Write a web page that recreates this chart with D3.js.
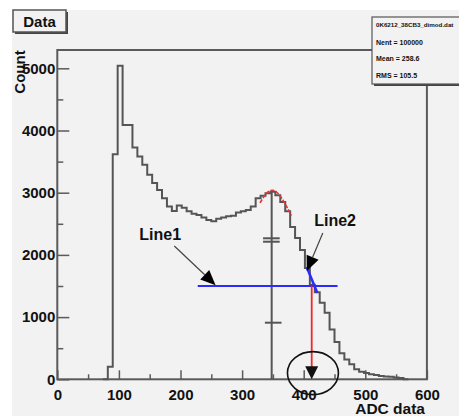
<!DOCTYPE html>
<html><head><meta charset="utf-8">
<script src="https://cdn.jsdelivr.net/npm/d3@7"></script>
<style>
body{margin:0;background:#fff}
svg{display:block}
text{font-family:"Liberation Sans",Arial,sans-serif;font-weight:bold;fill:#111}
</style>
</head><body><svg id="c" width="459" height="416"></svg>
<script>
// ---------- data ----------
const binStart = 74, binWidth = 8;
const counts = [0, 200, 3620, 5040, 4090, 4090, 3725, 3580, 3450, 3290, 3155, 3045, 2910, 2780, 2705, 2795,
  2760, 2700, 2660, 2640, 2600, 2560, 2540, 2580, 2600, 2620, 2630, 2680, 2700, 2720, 2780, 2910, 2950, 2990,
  3015, 2960, 2850, 2700, 2450, 2270, 2080, 1790, 1520, 1400, 1230, 1070, 800, 600, 420, 320, 240, 160, 120,
  100, 80, 70, 55, 45, 40, 30, 20, 0];
const xTicks = [0, 100, 200, 300, 400, 500, 600];
const xMinor = [50, 150, 250, 350, 450, 550];
const yTicks = [0, 1000, 2000, 3000, 4000, 5000];
const yMinor = [500, 1500, 2500, 3500, 4500];
const statsLines = ["0K6212_38CB3_dimod.dat", "Nent = 100000", "Mean = 258.6", "RMS = 105.5"];
const fitCurve = [[329, 2835], [335, 2930], [340, 2995], [345, 3030], [350, 3040], [356, 3010], [361, 2960], [366, 2885], [371, 2800], [376, 2710], [380, 2630]];
const cutLevel = [[228, 1500], [455, 1500]];
const edgeFit = [[405, 1800], [422, 1390]];
const peakMarker = [[348, 0], [348, 3030]];
const markDouble = [[2267, 334, 361], [2212, 334, 361]];
const markSingle = [[910, 337, 364]];
const dropArrow = [[413, 1500], [413, 0]];
const line1Arrow = [[190, 2143], [257, 1514]];
const line2Arrow = [[431, 2352], [405, 1741]];
const labels = [["Line1", 167, 2240], ["Line2", 451, 2465]];
const circleAt = [415, 100];

// ---------- layout ----------
const svg = d3.select("#c");
const L = 57.3, R = 426.9, T = 50, B = 379.3;
const x = d3.scaleLinear().domain([0, 600]).range([L, R]);
const y = d3.scaleLinear().domain([0, 5000]).range([B, 68.3]);
const axisCol = "#5a5a5a";

svg.append("rect").attr("x", 12).attr("y", 10).attr("width", 447).attr("height", 406).attr("fill", "#f2f2f2");

// frame
svg.append("rect").attr("x", L).attr("y", T).attr("width", R - L).attr("height", B - T)
  .attr("fill", "none").attr("stroke", axisCol).attr("stroke-width", 2);

// axes
const ax = svg.append("g").attr("transform", `translate(0,${B})`)
  .call(d3.axisBottom(x).tickValues(xTicks).tickSize(-9).tickPadding(10).tickFormat(d3.format("d")));
ax.select(".domain").remove();
ax.selectAll("line").attr("stroke", axisCol).attr("stroke-width", 1.5);
ax.selectAll("text").attr("font-size", 15).attr("font-family", "Liberation Sans").attr("font-weight", "bold").attr("fill", "#111");
svg.append("g").attr("transform", `translate(0,${B})`)
  .call(d3.axisBottom(x).tickValues(xMinor).tickSize(-5).tickFormat(""))
  .call(g => g.select(".domain").remove())
  .selectAll("line").attr("stroke", axisCol).attr("stroke-width", 1.5);

const ay = svg.append("g").attr("transform", `translate(${L},0)`)
  .call(d3.axisLeft(y).tickValues(yTicks).tickSize(-12).tickPadding(2).tickFormat(d3.format("d")));
ay.select(".domain").remove();
ay.selectAll("line").attr("stroke", axisCol).attr("stroke-width", 1.5);
ay.selectAll("text").attr("font-size", 15).attr("font-family", "Liberation Sans").attr("font-weight", "bold").attr("fill", "#111");
svg.append("g").attr("transform", `translate(${L},0)`)
  .call(d3.axisLeft(y).tickValues(yMinor).tickSize(-6).tickFormat(""))
  .call(g => g.select(".domain").remove())
  .selectAll("line").attr("stroke", axisCol).attr("stroke-width", 1.5);

// histogram
const pts = [[binStart, 0]];
counts.forEach((c, i) => { const lo = binStart + i * binWidth; pts.push([lo, c], [lo + binWidth, c]); });
pts.push([binStart + counts.length * binWidth, 0]);
svg.append("path").attr("d", d3.line().x(d => x(d[0])).y(d => y(d[1]))(pts))
  .attr("fill", "none").attr("stroke", "#555").attr("stroke-width", 2);

const ln = d3.line().x(d => x(d[0])).y(d => y(d[1]));

// peak marker
svg.append("path").attr("d", ln(peakMarker)).attr("stroke", "#555").attr("stroke-width", 2).attr("fill", "none");
markDouble.concat(markSingle).forEach(m => {
  svg.append("line").attr("x1", x(m[1])).attr("x2", x(m[2])).attr("y1", y(m[0])).attr("y2", y(m[0]))
    .attr("stroke", "#555").attr("stroke-width", 2);
});

// red fit
svg.append("path").attr("d", d3.line().curve(d3.curveCatmullRom).x(d => x(d[0])).y(d => y(d[1]))(fitCurve))
  .attr("fill", "none").attr("stroke", "#e8343a").attr("stroke-width", 1.6).attr("stroke-dasharray", "4,1.5");

// blue level
svg.append("path").attr("d", ln(cutLevel)).attr("stroke", "#2b2bff").attr("stroke-width", 2).attr("fill", "none");
svg.append("path").attr("d", ln(edgeFit)).attr("stroke", "#2b2bff").attr("stroke-width", 2.5).attr("fill", "none");

function arrowHead(p0, p1, len, hw, col) {
  const x0 = x(p0[0]), y0 = y(p0[1]), x1 = x(p1[0]), y1 = y(p1[1]);
  const dx = x1 - x0, dy = y1 - y0, d = Math.hypot(dx, dy), ux = dx / d, uy = dy / d;
  const bx = x1 - ux * len, by = y1 - uy * len;
  svg.append("polygon").attr("points",
    `${x1},${y1} ${bx - uy * hw},${by + ux * hw} ${bx + uy * hw},${by - ux * hw}`).attr("fill", col);
  return [bx, by];
}

// red drop arrow
{
  const b = [x(dropArrow[1][0]), y(dropArrow[1][1])];
  svg.append("line").attr("x1", x(dropArrow[0][0])).attr("y1", y(dropArrow[0][1]))
    .attr("x2", b[0]).attr("y2", b[1] - 10).attr("stroke", "#f02828").attr("stroke-width", 1.8);
  arrowHead(dropArrow[0], dropArrow[1], 13, 6.5, "#111");
}

// label arrows
[line1Arrow, line2Arrow].forEach(a => {
  const b = arrowHead(a[0], a[1], 15, 6.5, "#000");
  svg.append("line").attr("x1", x(a[0][0])).attr("y1", y(a[0][1])).attr("x2", b[0]).attr("y2", b[1])
    .attr("stroke", "#444").attr("stroke-width", 1.2);
});
labels.forEach(l => {
  svg.append("text").attr("x", x(l[1])).attr("y", y(l[2])).attr("text-anchor", "middle")
    .attr("font-size", 16).text(l[0]);
});

// circle
svg.append("ellipse").attr("cx", x(circleAt[0])).attr("cy", y(circleAt[1])).attr("rx", 25.5).attr("ry", 21.5)
  .attr("fill", "none").attr("stroke", "#111").attr("stroke-width", 1.6);

// axis titles
svg.append("text").attr("transform", "translate(25,72) rotate(-90)").attr("text-anchor", "middle")
  .attr("font-size", 15).text("Count");
svg.append("text").attr("x", 425).attr("y", 414).attr("text-anchor", "end").attr("font-size", 15.5).text("ADC data");

// Data title box
svg.append("rect").attr("x", 15).attr("y", 12).attr("width", 53).attr("height", 22).attr("fill", "#444");
svg.append("rect").attr("x", 13).attr("y", 10).attr("width", 53).attr("height", 22).attr("fill", "#f2f2f2")
  .attr("stroke", "#555").attr("stroke-width", 1.5);
svg.append("text").attr("x", 39.5).attr("y", 26.5).attr("text-anchor", "middle").attr("font-size", 15).text("Data");

// stats box
svg.append("rect").attr("x", 374).attr("y", 19).attr("width", 100).attr("height", 67).attr("fill", "#444");
svg.append("rect").attr("x", 372).attr("y", 17).attr("width", 100).attr("height", 67).attr("fill", "#f2f2f2")
  .attr("stroke", "#555").attr("stroke-width", 1.2);
statsLines.forEach((s, i) => {
  svg.append("text").attr("x", 376).attr("y", [27, 45, 61, 78][i]).attr("font-size", i === 0 ? 6.2 : 7).text(s);
});
</script></body></html>
